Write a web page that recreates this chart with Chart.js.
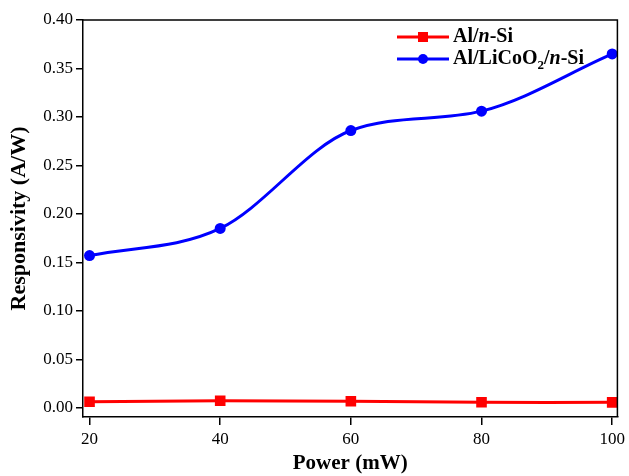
<!DOCTYPE html>
<html>
<head>
<meta charset="utf-8">
<script src="https://cdn.jsdelivr.net/npm/chart.js@4"></script>
<style>
  html, body { margin: 0; padding: 0; background: #fff; }
  #wrap { width: 629px; height: 476px; }
</style>
</head>
<body>
<div id="wrap"><canvas id="myChart" width="629" height="476"></canvas></div>
<script>
const power = [20, 40, 60, 80, 100];
const alNSi = [0.0062, 0.0072, 0.0067, 0.0057, 0.0056];
const alLiCoO2NSi = [0.157, 0.185, 0.286, 0.306, 0.365];
const xTicks = [20, 40, 60, 80, 100];
const yTicks = [0, 0.05, 0.10, 0.15, 0.20, 0.25, 0.30, 0.35, 0.40];

const serif = '"Liberation Serif", "Times New Roman", serif';

// legend with italic n and subscript 2, drawn by hand
const legendItems = [
    { color: '#ff0000', style: 'rect', parts: [['Al/', ''], ['n', 'italic '], ['-Si', '']] },
    { color: '#0000ff', style: 'circle', parts: [['Al/LiCoO', ''], ['2', 'sub'], ['/', ''], ['n', 'italic '], ['-Si', '']] }
];

const frame = {
    id: 'frame',
    afterDraw(chart) {
        const c = chart.ctx, a = chart.chartArea;
        c.save();
        c.strokeStyle = '#000';
        c.lineWidth = 1.5;
        c.beginPath();
        c.moveTo(a.left, a.top);
        c.lineTo(a.right, a.top);
        c.lineTo(a.right, a.bottom);
        c.stroke();

        let y = 37;
        legendItems.forEach(item => {
            c.strokeStyle = item.color;
            c.fillStyle = item.color;
            c.lineWidth = 3;
            c.beginPath();
            c.moveTo(397, y);
            c.lineTo(449, y);
            c.stroke();
            if (item.style === 'rect') {
                c.fillRect(418, y - 5, 10, 10);
            } else {
                c.beginPath();
                c.arc(423, y, 5, 0, Math.PI * 2);
                c.fill();
            }
            c.fillStyle = '#000';
            c.textBaseline = 'middle';
            let x = 453;
            item.parts.forEach(p => {
                if (p[1] === 'sub') {
                    c.font = 'bold 13px ' + serif;
                    c.fillText(p[0], x, y + 7);
                } else {
                    c.font = p[1] + 'bold 20px ' + serif;
                    c.fillText(p[0], x, y);
                }
                x += c.measureText(p[0]).width;
            });
            y += 22;
        });
        c.restore();
    }
};

new Chart(document.getElementById('myChart'), {
    type: 'line',
    data: {
        datasets: [{
            label: 'Al/n-Si',
            data: power.map((p, i) => ({ x: p, y: alNSi[i] })),
            borderColor: '#ff0000',
            backgroundColor: '#ff0000',
            borderWidth: 3,
            pointStyle: 'rect',
            pointRadius: 7.5,
            pointBorderWidth: 0,
            tension: 0.4
        }, {
            label: 'Al/LiCoO2/n-Si',
            data: power.map((p, i) => ({ x: p, y: alLiCoO2NSi[i] })),
            borderColor: '#0000ff',
            backgroundColor: '#0000ff',
            borderWidth: 3,
            pointStyle: 'circle',
            pointRadius: 5.5,
            pointBorderWidth: 0,
            cubicInterpolationMode: 'monotone'
        }]
    },
    options: {
        responsive: false,
        animation: false,
        layout: { padding: { top: 20, right: 6, left: 0, bottom: 0 } },
        plugins: {
            legend: { display: false },
            tooltip: { enabled: false }
        },
        scales: {
            x: {
                type: 'linear',
                min: 19,
                max: 100.8,
                afterBuildTicks: s => { s.ticks = xTicks.map(v => ({ value: v })); },
                afterFit: s => { s.height = 59; },
                border: { color: '#000', width: 1.5 },
                grid: { drawOnChartArea: false, color: '#000', lineWidth: 1.5, tickLength: 8 },
                ticks: {
                    color: '#000',
                    font: { family: serif, size: 17 },
                    padding: 4,
                    callback: v => String(v)
                },
                title: {
                    display: true,
                    text: 'Power (mW)',
                    color: '#000',
                    font: { family: serif, size: 21, weight: 'bold' },
                    padding: { top: 0, bottom: 0 }
                }
            },
            y: {
                min: -0.0095,
                max: 0.40,
                afterBuildTicks: s => { s.ticks = yTicks.map(v => ({ value: v })); },
                afterFit: s => { s.width = 83; },
                border: { color: '#000', width: 1.5 },
                grid: { drawOnChartArea: false, color: '#000', lineWidth: 1.5, tickLength: 7 },
                ticks: {
                    color: '#000',
                    font: { family: serif, size: 17 },
                    padding: 3,
                    callback: v => v.toFixed(2)
                },
                title: {
                    display: true,
                    text: 'Responsivity (A/W)',
                    color: '#000',
                    font: { family: serif, size: 22, weight: 'bold' },
                    padding: { top: 6, bottom: 2 }
                }
            }
        }
    },
    plugins: [frame]
});
</script>
</body>
</html>
